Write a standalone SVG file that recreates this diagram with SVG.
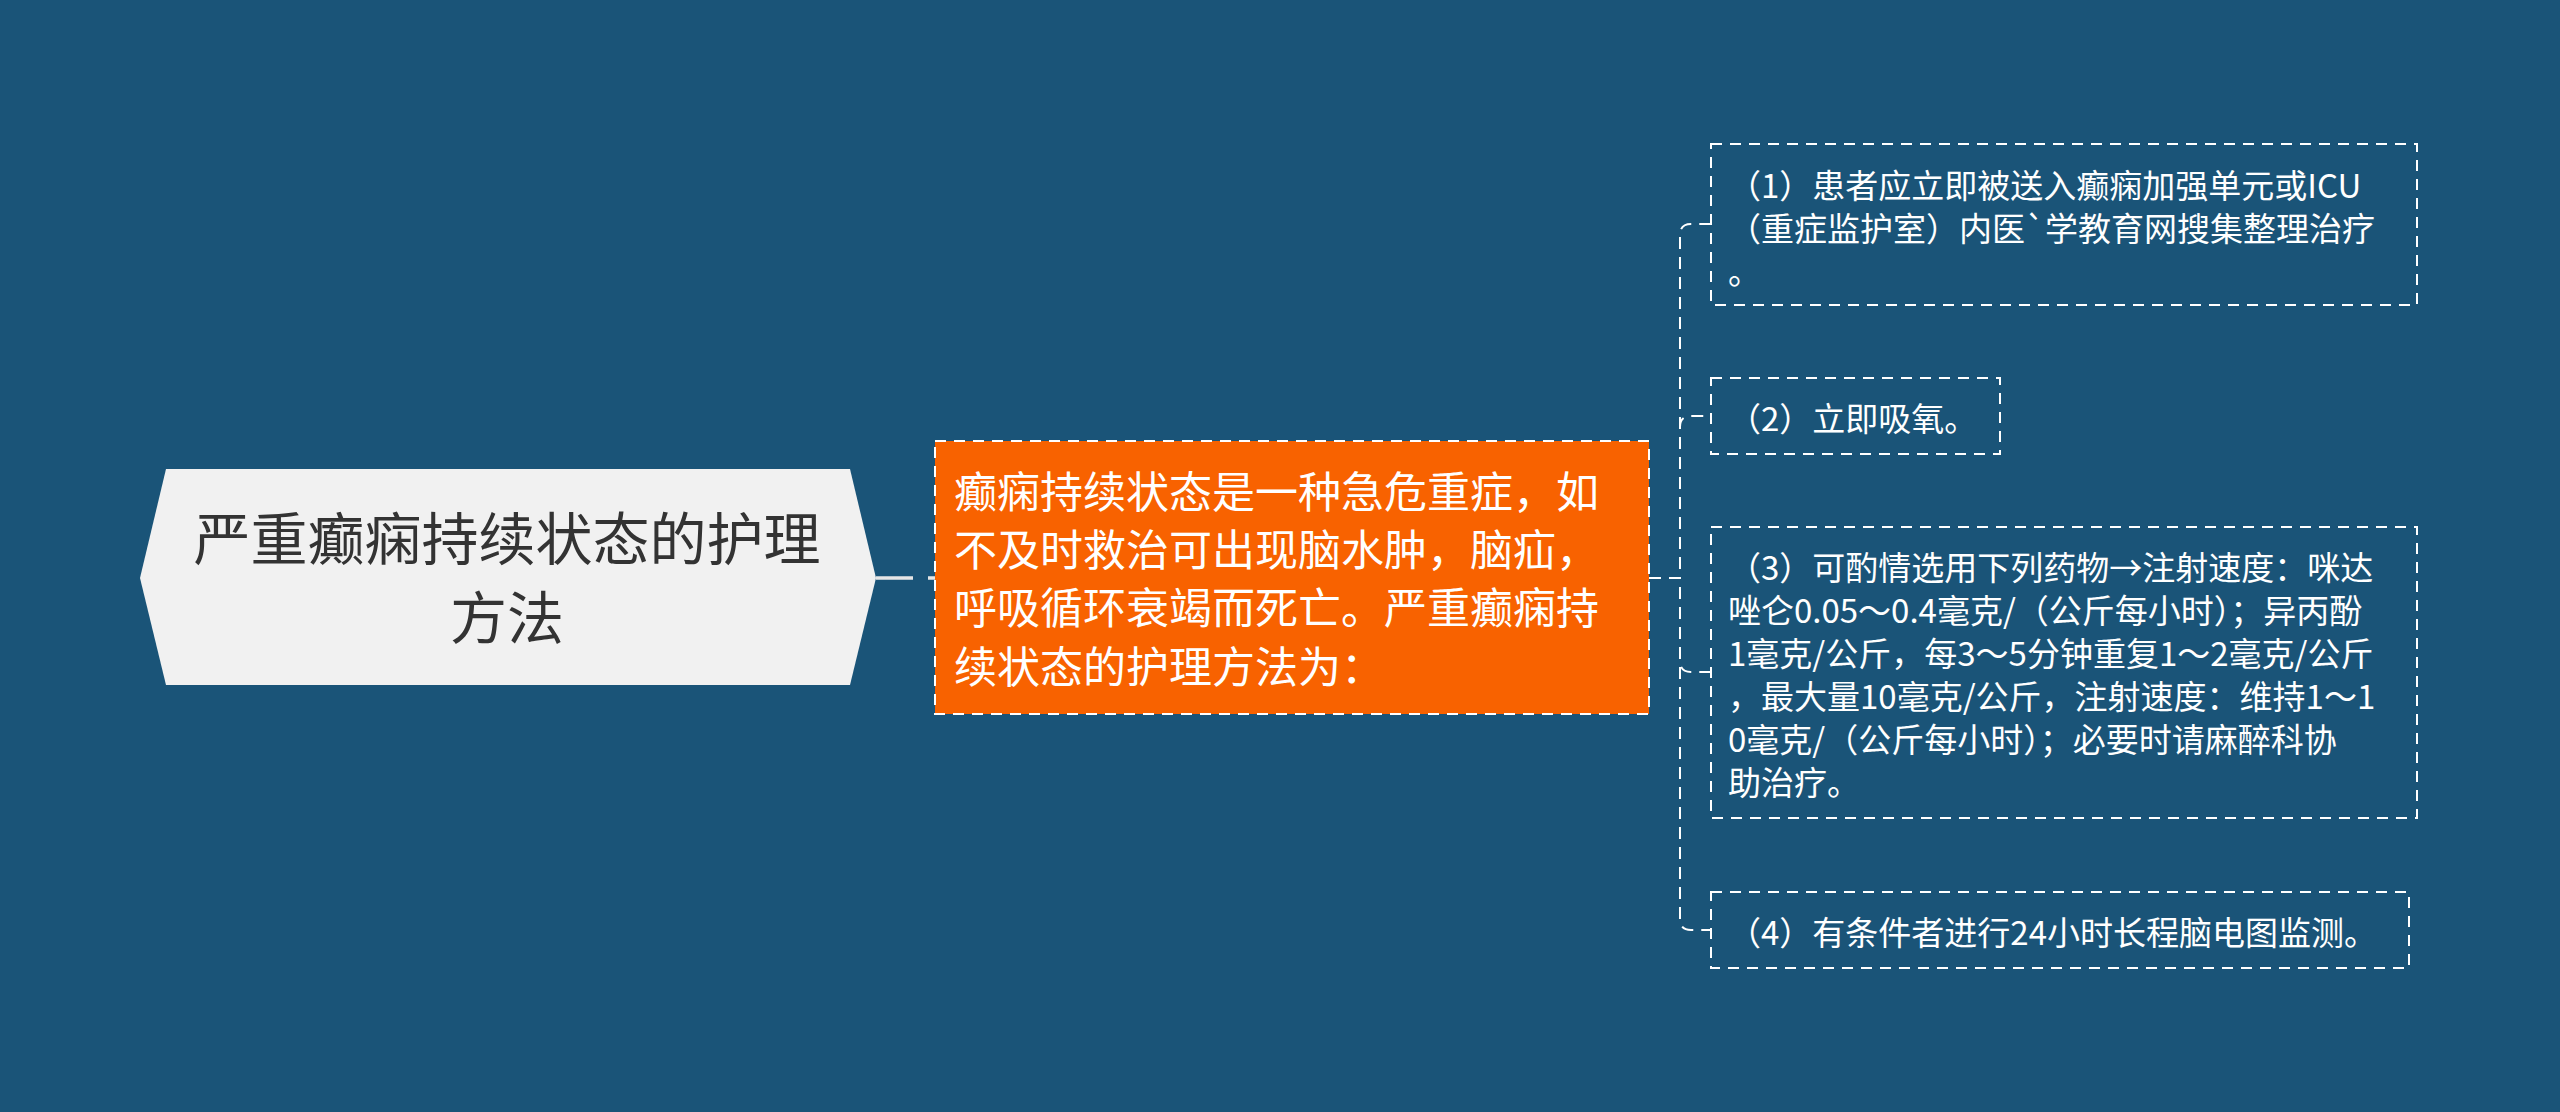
<svg xmlns="http://www.w3.org/2000/svg" width="2560" height="1112" viewBox="0 0 2560 1112">
<style>
.bg{fill:#1a5478}
.t{font-family:"Noto Sans CJK SC","Noto Sans",sans-serif}
.root-t{font-size:57px;fill:#333333}
.main-t{font-size:43px;fill:#ffffff}
.leaf-t{font-size:33px;fill:#ffffff}
.leaf{fill:none;stroke:#ffffff;stroke-width:2;stroke-dasharray:11 8}
.main{fill:#f86200;stroke:#ffffff;stroke-width:2;stroke-dasharray:11 8}
.conn{fill:none;stroke:#ffffff;stroke-width:2;stroke-dasharray:12 8}
.conn-root{fill:none;stroke:#e6e6e6;stroke-width:3.5;stroke-dasharray:37 15}
</style>
<rect class="bg" x="0" y="0" width="2560" height="1112"/>
<g id="connectors">
<path class="conn-root" d="M876 578 H935"/>
<path class="conn" d="M1649 578 H1680 V235 Q1680 224 1691 224 H1711"/>
<path class="conn" d="M1649 578 H1680 V427 Q1680 416 1691 416 H1711"/>
<path class="conn" d="M1649 578 H1680 V661 Q1680 672 1691 672 H1711"/>
<path class="conn" d="M1649 578 H1680 V919 Q1680 930 1691 930 H1711"/>
</g>
<g id="root">
<polygon points="140,578 166,469 850,469 876,578 850,685 166,685" fill="#f1f1f1"/>
<text class="t root-t" text-anchor="middle"><tspan x="507" y="560">严重癫痫持续状态的护理</tspan><tspan x="507" y="639">方法</tspan></text>
</g>
<g id="main">
<rect class="main" x="935" y="441" width="714" height="273"/>
<text class="t main-t"><tspan x="954" y="508">癫痫持续状态是一种急危重症，如</tspan><tspan x="954" y="566">不及时救治可出现脑水肿，脑疝，</tspan><tspan x="954" y="624">呼吸循环衰竭而死亡。严重癫痫持</tspan><tspan x="954" y="683">续状态的护理方法为：</tspan></text>
</g>
<g id="item1">
<rect class="leaf" x="1711" y="144" width="706" height="161"/>
<text class="t leaf-t"><tspan x="1728" y="198">（1）患者应立即被送入癫痫加强单元或ICU</tspan><tspan x="1728" y="241">（重症监护室）内医`学教育网搜集整理治疗</tspan><tspan x="1728" y="284">。</tspan></text>
</g>
<g id="item2">
<rect class="leaf" x="1711" y="378" width="289" height="76"/>
<text class="t leaf-t"><tspan x="1728" y="431">（2）立即吸氧。</tspan></text>
</g>
<g id="item3">
<rect class="leaf" x="1711" y="527" width="706" height="291"/>
<text class="t leaf-t"><tspan x="1728" y="580">（3）可酌情选用下列药物→注射速度：咪达</tspan><tspan x="1728" y="623">唑仑0.05～0.4毫克/（公斤每小时）；异丙酚</tspan><tspan x="1728" y="666">1毫克/公斤，每3～5分钟重复1～2毫克/公斤</tspan><tspan x="1728" y="709">，最大量10毫克/公斤，注射速度：维持1～1</tspan><tspan x="1728" y="752">0毫克/（公斤每小时）；必要时请麻醉科协</tspan><tspan x="1728" y="795">助治疗。</tspan></text>
</g>
<g id="item4">
<rect class="leaf" x="1711" y="892" width="698" height="76"/>
<text class="t leaf-t"><tspan x="1728" y="945">（4）有条件者进行24小时长程脑电图监测。</tspan></text>
</g>
</svg>
